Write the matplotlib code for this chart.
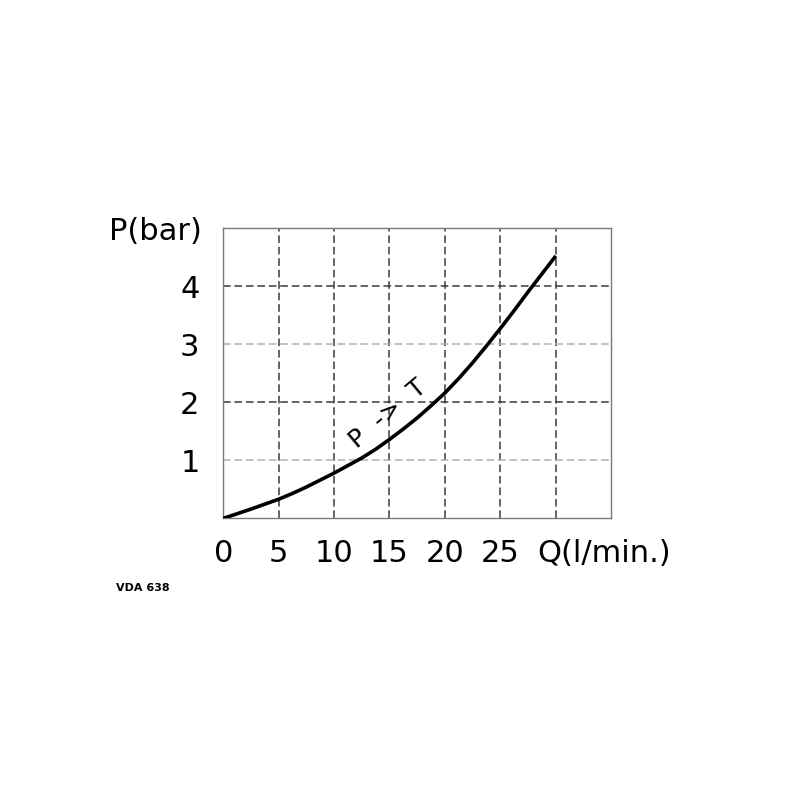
import matplotlib
matplotlib.use("Agg")
import matplotlib.pyplot as plt

# P -> T curve
flow_q = [0, 1.25, 2.5, 3.75, 5, 6.25, 7.5, 8.75, 10, 11.25, 12.5, 13.75, 15,
          16.25, 17.5, 18.75, 20, 21.25, 22.5, 23.75, 25, 26.25, 27.5, 28.75, 30]
press_p = [0, 0.08, 0.16, 0.245, 0.33, 0.43, 0.54, 0.66, 0.78, 0.91, 1.04, 1.19, 1.36,
           1.54, 1.73, 1.94, 2.16, 2.41, 2.68, 2.97, 3.27, 3.58, 3.90, 4.21, 4.52]

x_ticks = [0, 5, 10, 15, 20, 25]
y_ticks = [1, 2, 3, 4]
x_grid = [5, 10, 15, 20, 25, 30]
dark_y_grid = [2, 4]
light_y_grid = [1, 3]

plt.rcParams["font.family"] = ["DejaVu Sans"]

fig = plt.figure(figsize=(8, 8), dpi=100)
ax = fig.add_axes([0.279, 0.352, 0.485, 0.363])

ax.set_xlim(0, 35)
ax.set_ylim(0, 5)

dash = (0, (5, 2.5))
for gx in x_grid:
    ax.axvline(gx, color="#3a3a3a", lw=1.1, ls=dash, zorder=1)
for gy in dark_y_grid:
    ax.axhline(gy, color="#3a3a3a", lw=1.1, ls=dash, zorder=1)
for gy in light_y_grid:
    ax.axhline(gy, color="#b0b0b0", lw=1.1, ls=dash, zorder=1)

ax.plot(flow_q, press_p, color="black", lw=2.6, solid_capstyle="butt",
        solid_joinstyle="round", zorder=3)

ax.set_xticks(x_ticks)
ax.set_yticks(y_ticks)
ax.set_xticklabels([str(t) for t in x_ticks], fontsize=22)
ax.set_yticklabels([str(t) for t in y_ticks], fontsize=22)
ax.tick_params(axis="both", length=0)
ax.tick_params(axis="x", pad=15)
ax.tick_params(axis="y", pad=17)

for s in ax.spines.values():
    s.set_color("#7a7a7a")
    s.set_linewidth(1.0)

fig.text(155 / 800, 1 - 232 / 800, "P(bar)", fontsize=22, ha="center", va="center")
fig.text(604 / 800, 1 - 554 / 800, "Q(l/min.)", fontsize=22, ha="center", va="center")
fig.text(143 / 800, 1 - 588 / 800, "VDA 638", fontsize=8, fontweight="bold",
         ha="center", va="center")

ax.text(14.9, 1.80, "P  ->  T", fontsize=18, rotation=40, ha="center", va="center",
        rotation_mode="anchor", zorder=4)

fig.savefig("out.png", dpi=100, facecolor="white")
